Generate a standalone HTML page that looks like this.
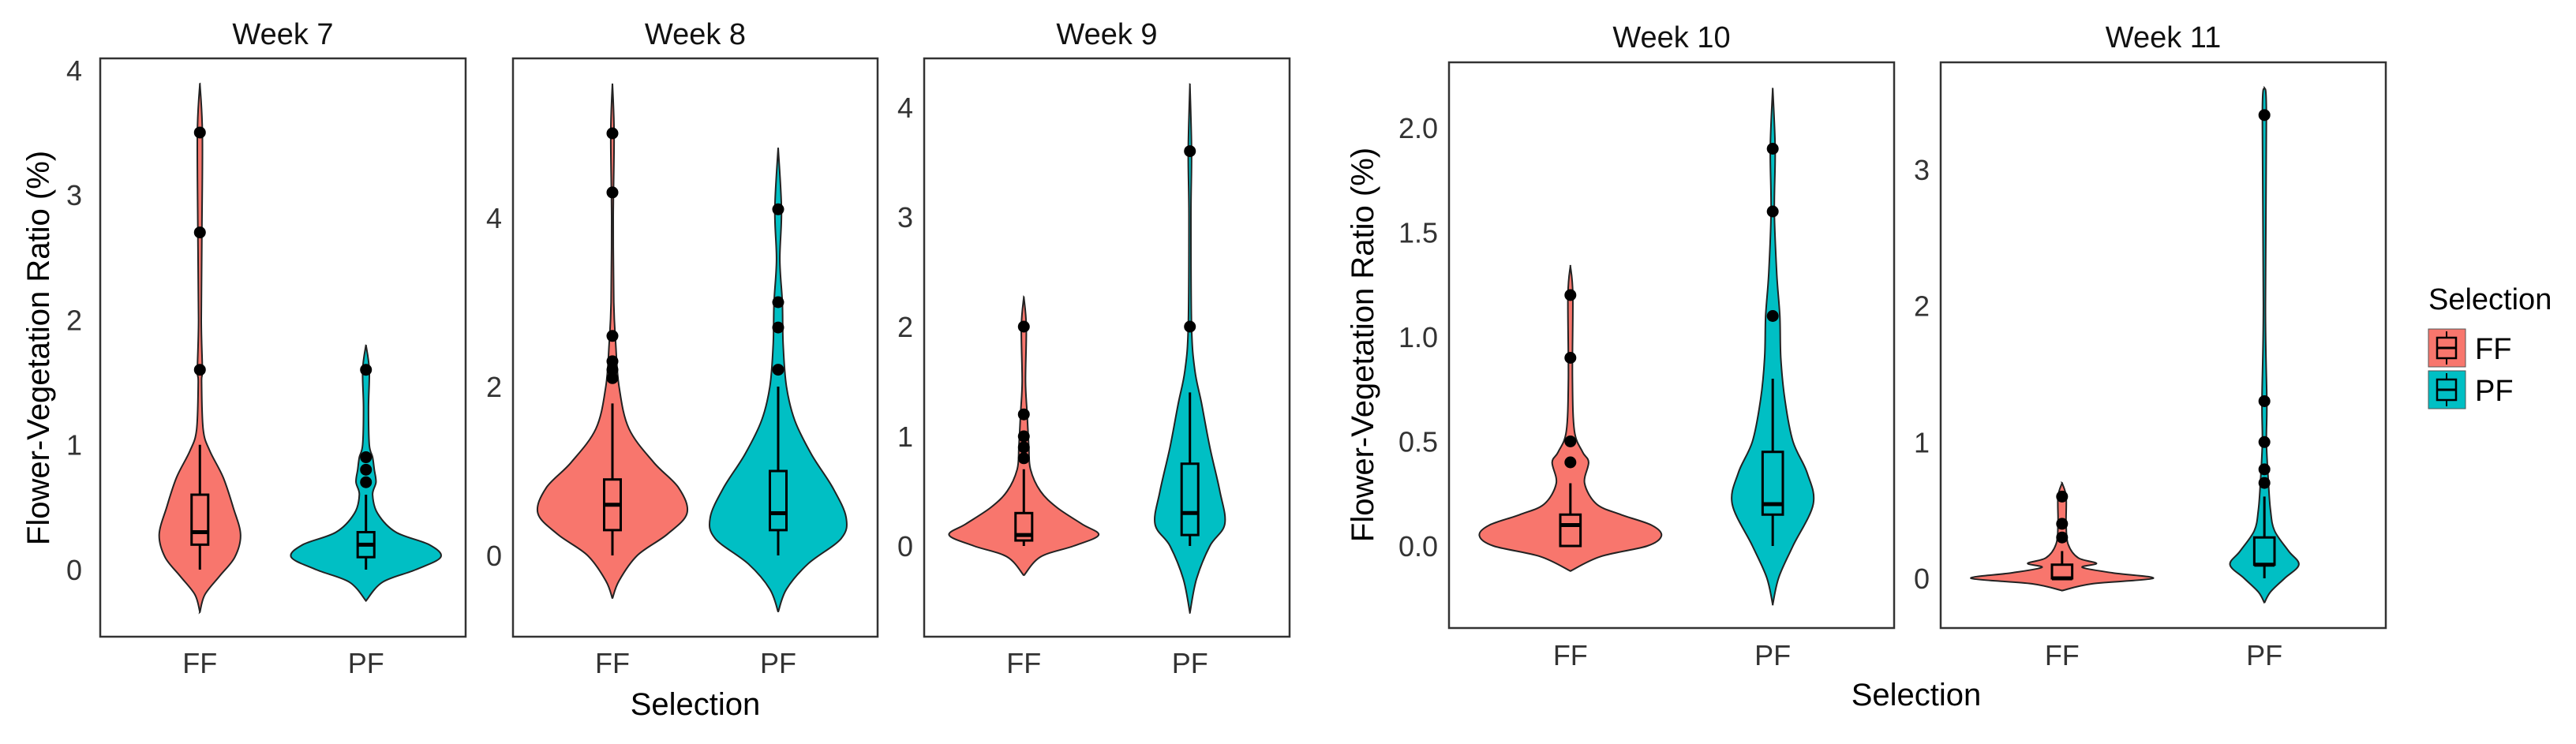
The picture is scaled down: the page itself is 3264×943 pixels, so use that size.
<!DOCTYPE html>
<html><head><meta charset="utf-8"><style>
html,body{margin:0;padding:0;background:#fff;}
svg{display:block;font-family:"Liberation Sans",sans-serif;}
</style></head><body>
<svg id="chart" width="3264" height="943" viewBox="0 0 3264 943" xmlns="http://www.w3.org/2000/svg"></svg>
<script>
const categories = ["FF","PF"];
const panelTitles = ["Week 7","Week 8","Week 9","Week 10","Week 11"];
const tickLabels7 = [0,1,2,3,4];
const tickLabels8 = [0,2,4];
const tickLabels9 = [0,1,2,3,4];
const tickLabels10 = ["0.0","0.5","1.0","1.5","2.0"];
const tickLabels11 = [0,1,2,3];
// violin density profiles: [value, half-width in category units]
const w7FF = [[-0.34,0],[-0.2,0.03],[-0.05,0.12],[0.1,0.21],[0.28,0.245],[0.5,0.2],[0.74,0.14],[0.95,0.06],[1.12,0.02],[1.5,0.01],[1.6,0.015],[2,0.008],[2.7,0.012],[3.5,0.015],[3.89,0]];
const w7PF = [[-0.25,0],[-0.1,0.1],[0,0.3],[0.1,0.45],[0.2,0.38],[0.3,0.18],[0.45,0.07],[0.6,0.04],[0.7,0.06],[0.8,0.05],[0.9,0.04],[1.0,0.02],[1.3,0.015],[1.6,0.02],[1.8,0]];
const w8FF = [[-0.51,0],[-0.3,0.04],[0,0.15],[0.25,0.33],[0.5,0.45],[0.8,0.4],[1.1,0.25],[1.5,0.1],[2,0.04],[2.5,0.02],[3,0.008],[4,0.005],[5,0.01],[5.59,0]];
const w8PF = [[-0.67,0],[-0.4,0.05],[-0.1,0.18],[0.2,0.38],[0.45,0.41],[0.8,0.33],[1.2,0.2],[1.6,0.1],[2,0.05],[2.5,0.03],[3,0.025],[3.5,0.01],[4.1,0.02],[4.83,0]];
const w9FF = [[-0.27,0],[-0.1,0.1],[0,0.3],[0.1,0.45],[0.2,0.35],[0.35,0.2],[0.5,0.1],[0.7,0.04],[0.9,0.03],[1.2,0.02],[1.5,0.01],[2,0.015],[2.27,0]];
const w9PF = [[-0.61,0],[-0.3,0.04],[0,0.12],[0.2,0.21],[0.5,0.18],[0.9,0.12],[1.3,0.07],[1.6,0.03],[2,0.01],[3,0.006],[3.6,0.01],[4.21,0]];
const w10FF = [[-0.12,0],[-0.05,0.15],[0,0.38],[0.05,0.45],[0.1,0.4],[0.15,0.25],[0.2,0.13],[0.3,0.07],[0.4,0.09],[0.45,0.06],[0.55,0.02],[0.8,0.01],[1.2,0.012],[1.34,0]];
const w10PF = [[-0.28,0],[-0.15,0.03],[0,0.1],[0.2,0.2],[0.35,0.17],[0.5,0.1],[0.7,0.06],[0.9,0.04],[1.1,0.035],[1.3,0.02],[1.6,0.008],[1.9,0.012],[2.19,0]];
const w11FF = [[-0.09,0],[-0.04,0.15],[0,0.45],[0.04,0.25],[0.08,0.1],[0.11,0.17],[0.15,0.08],[0.25,0.03],[0.4,0.02],[0.6,0.02],[0.7,0]];
const w11PF = [[-0.18,0],[-0.1,0.03],[0,0.1],[0.1,0.17],[0.2,0.12],[0.35,0.05],[0.5,0.03],[0.7,0.02],[1,0.01],[1.3,0.012],[2,0.005],[3.4,0.01],[3.6,0]];
// box stats: [whiskerLo, q1, median, q3, whiskerHi]
const box7 = [[0,0.2,0.3,0.6,1.0],[0,0.1,0.2,0.3,0.6]];
const box8 = [[0,0.3,0.6,0.9,1.8],[0,0.3,0.5,1.0,2.0]];
const box9 = [[0,0.05,0.1,0.3,0.7],[0,0.1,0.3,0.75,1.4]];
const box10 = [[0,0,0.1,0.15,0.3],[0,0.15,0.2,0.45,0.8]];
const box11 = [[0,0,0,0.1,0.2],[0,0.1,0.1,0.3,0.6]];
const out7 = [[1.6,2.7,3.5],[0.7,0.8,0.9,1.6]];
const out8 = [[2.1,2.2,2.3,2.6,4.3,5.0],[2.2,2.7,3.0,4.1]];
const out9 = [[0.8,0.9,1.0,1.2,2.0],[2.0,3.6]];
const out10 = [[0.4,0.5,0.9,1.2],[1.1,1.6,1.9]];
const out11 = [[0.3,0.4,0.6],[0.7,0.8,1.0,1.3,3.4]];

const colors = ["#F8766D","#00BFC4"];
const NS = "http://www.w3.org/2000/svg";
const svg = document.getElementById('chart');
function mk(tag, attrs, parent, text){
  const e = document.createElementNS(NS, tag);
  for (const k in attrs) e.setAttribute(k, attrs[k]);
  if (text !== undefined) e.textContent = text;
  (parent||svg).appendChild(e); return e;
}
const panels = [
  {x0:127,x1:590,y0:74,y1:807,zero:722,unit:158.3,ticks:tickLabels7,v:[w7FF,w7PF],b:box7,o:out7,tx:104},
  {x0:650,x1:1112,y0:74,y1:807,zero:704,unit:107,ticks:tickLabels8,v:[w8FF,w8PF],b:box8,o:out8,tx:636},
  {x0:1171,x1:1634,y0:74,y1:807,zero:692,unit:139,ticks:tickLabels9,v:[w9FF,w9PF],b:box9,o:out9,tx:1157},
  {x0:1836,x1:2400,y0:79,y1:796,zero:692,unit:265,ticks:tickLabels10,v:[w10FF,w10PF],b:box10,o:out10,tx:1822},
  {x0:2459,x1:3023,y0:79,y1:796,zero:733,unit:172.7,ticks:tickLabels11,v:[w11FF,w11PF],b:box11,o:out11,tx:2445}
];
function smoothPath(pts){
  let d = "M"+pts[0][0]+","+pts[0][1];
  for (let i=0;i<pts.length-1;i++){
    const p0=pts[Math.max(i-1,0)],p1=pts[i],p2=pts[i+1],p3=pts[Math.min(i+2,pts.length-1)];
    const c1=[p1[0]+(p2[0]-p0[0])/6,p1[1]+(p2[1]-p0[1])/6];
    const c2=[p2[0]-(p3[0]-p1[0])/6,p2[1]-(p3[1]-p1[1])/6];
    d += " C"+c1[0].toFixed(1)+","+c1[1].toFixed(1)+" "+c2[0].toFixed(1)+","+c2[1].toFixed(1)+" "+p2[0].toFixed(1)+","+p2[1].toFixed(1);
  }
  return d;
}
panels.forEach((p,pi)=>{
  const g = mk('g',{});
  
  
  const y = v => p.zero - v*p.unit;
  const w = p.x1-p.x0;
  const spacing = w/2.2;
  const xc = i => p.x0 + (i+1-0.4)*spacing;
  const t = mk('text',{x:(p.x0+p.x1)/2,y:pi<3?56:60,'text-anchor':'middle','font-size':38,fill:'#111'},g,panelTitles[pi]);
  
  
  p.ticks.forEach(tk=>{
    const tl = mk('text',{x:p.tx,y:y(parseFloat(tk))+13,'text-anchor':'end','font-size':36,fill:'#333'},g,String(tk));
    
    
  });
  categories.forEach((c,ci)=>{
    const cx = xc(ci);
    const prof = p.v[ci];
    const right = prof.map(q=>[cx+q[1]*spacing, y(q[0])]);
    const left = prof.slice().reverse().map(q=>[cx-q[1]*spacing, y(q[0])]);
    const d = smoothPath(right) + " L" + smoothPath(left).slice(1) + " Z";
    const vp = mk('path',{d:d,fill:colors[ci],stroke:'#222','stroke-width':2},g);
    
    
    const b = p.b[ci];
    const bw = spacing*0.1;
    const wl = mk('line',{x1:cx,x2:cx,y1:y(b[0]),y2:y(b[4]),stroke:'#000','stroke-width':3},g);
    
    
    const br = mk('rect',{x:cx-bw/2,y:y(b[3]),width:bw,height:Math.max(y(b[1])-y(b[3]),1),fill:colors[ci],stroke:'#000','stroke-width':3},g);
    
    
    const md = mk('line',{x1:cx-bw/2,x2:cx+bw/2,y1:y(b[2]),y2:y(b[2]),stroke:'#000','stroke-width':5},g);
    
    
    p.o[ci].forEach(v=>{
      const pt = mk('circle',{cx:cx,cy:y(v),r:7.5,fill:'#000'},g);
      
      
    });
    const xl = mk('text',{x:cx,y:pi<3?853:843,'text-anchor':'middle','font-size':36,fill:'#333'},g,c);
    
    
  });
  const fr = mk('rect',{x:p.x0,y:p.y0,width:w,height:p.y1-p.y0,fill:'none',stroke:'#333','stroke-width':2.5},g);
  
  
});
</script>
<svg style="position:absolute;left:0;top:0" width="3264" height="943">
  <text transform="translate(62,441) rotate(-90)" text-anchor="middle" font-size="40" fill="#000" font-family="Liberation Sans, sans-serif">Flower-Vegetation Ratio (%)</text>
  <text x="881" y="906" text-anchor="middle" font-size="40" fill="#000" font-family="Liberation Sans, sans-serif">Selection</text>
  <text transform="translate(1740,437) rotate(-90)" text-anchor="middle" font-size="40" fill="#000" font-family="Liberation Sans, sans-serif">Flower-Vegetation Ratio (%)</text>
  <text x="2428" y="894" text-anchor="middle" font-size="40" fill="#000" font-family="Liberation Sans, sans-serif">Selection</text>
  <g font-family="Liberation Sans, sans-serif">
    <text x="3077" y="392" font-size="38" fill="#000">Selection</text>
    <g>
      <rect x="3077" y="417" width="47" height="48" fill="#F8766D" stroke="#555" stroke-width="1"/>
      <line x1="3100" y1="420" x2="3100" y2="462" stroke="#000" stroke-width="2"/>
      <rect x="3088" y="428" width="24" height="26" fill="#F8766D" stroke="#000" stroke-width="2.5"/>
      <line x1="3088" y1="441" x2="3112" y2="441" stroke="#000" stroke-width="3"/>
      <text x="3136" y="455" font-size="38" fill="#000">FF</text>
    </g>
    <g>
      <rect x="3077" y="470" width="47" height="48" fill="#00BFC4" stroke="#555" stroke-width="1"/>
      <line x1="3100" y1="473" x2="3100" y2="515" stroke="#000" stroke-width="2"/>
      <rect x="3088" y="481" width="24" height="26" fill="#00BFC4" stroke="#000" stroke-width="2.5"/>
      <line x1="3088" y1="494" x2="3112" y2="494" stroke="#000" stroke-width="3"/>
      <text x="3136" y="508" font-size="38" fill="#000">PF</text>
    </g>
  </g>
</svg>
</body></html>
